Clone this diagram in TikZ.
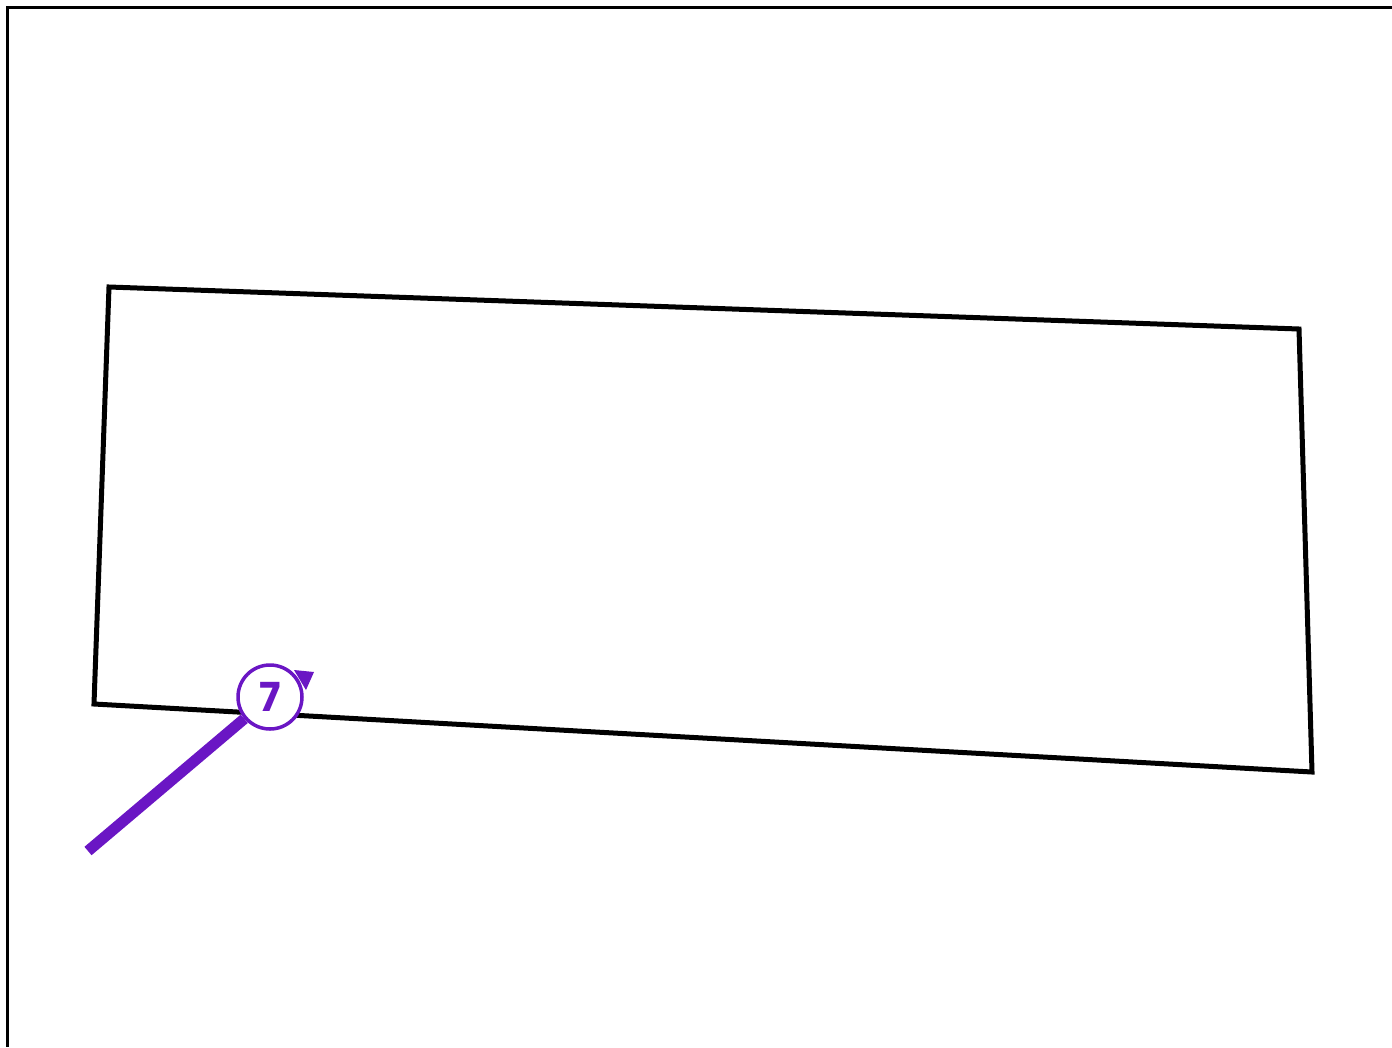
\documentclass[tikz,border=0pt]{standalone}
\usepackage{fontspec}
\setmainfont{Poppins}
\definecolor{badgepurple}{RGB}{106,22,196}
\tikzset{
  frame/.style={line width=3pt, black},
  slab/.style={line width=5pt, black, line join=miter},
  badge/.style={circle, draw=badgepurple, line width=3.5pt, fill=white, minimum size=64pt, inner sep=0pt, text=badgepurple, font=\fontsize{40}{40}\selectfont\bfseries},
  leader/.style={line width=11pt, badgepurple},
}
\begin{document}
\begin{tikzpicture}[x=1pt,y=-1pt]
\useasboundingbox (0,0) rectangle (1392,1047);
\draw[frame] (1392,7) -- (7,7) -- (7,1047);
\coordinate (p1) at (109,287);
\coordinate (p2) at (1299,329);
\coordinate (p3) at (1312,772);
\coordinate (p4) at (94,704);
\draw[slab] (p1) -- (p2) -- (p3) -- (p4) -- cycle;
\coordinate (lend) at (88,851);
\fill[badgepurple] (294,670) -- (314,672) -- (306,690) -- cycle;
\node[badge] (b) at (270,697) {7};
\draw[leader] (lend) -- (b);
\end{tikzpicture}
\end{document}
